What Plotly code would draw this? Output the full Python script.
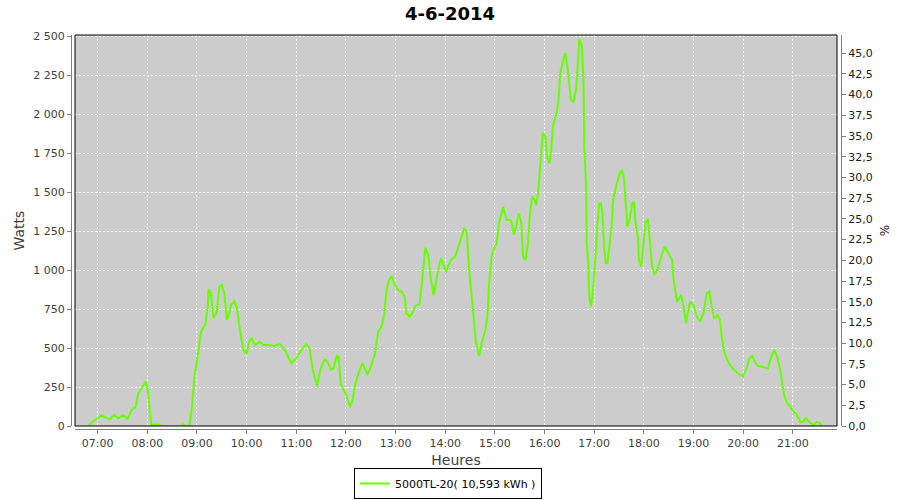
import plotly.graph_objects as go

DAY = "2014-06-04"
TITLE = "4-6-2014"
SERIES_NAME = "5000TL-20( 10,593 kWh )"

times = [
    "06:49", "06:55", "07:05", "07:11", "07:15", "07:20", "07:25", "07:31", "07:36", "07:41",
    "07:46", "07:49", "07:53", "07:58", "08:00", "08:03", "08:05", "08:09", "08:15", "08:18",
    "08:40", "08:43", "08:46", "08:51", "08:54", "08:57", "09:00", "09:02", "09:04", "09:06",
    "09:10", "09:13", "09:14", "09:17", "09:20", "09:24", "09:27", "09:30", "09:33", "09:36",
    "09:38", "09:41", "09:45", "09:48", "09:51", "09:54", "09:57", "10:00", "10:03", "10:06",
    "10:10", "10:16", "10:20", "10:26", "10:33", "10:40", "10:46", "10:54", "11:00", "11:06",
    "11:12", "11:16", "11:20", "11:25", "11:29", "11:34", "11:37", "11:42", "11:45", "11:49",
    "11:51", "11:54", "11:59", "12:02", "12:05", "12:08", "12:11", "12:15", "12:20", "12:26",
    "12:31", "12:35", "12:39", "12:43", "12:46", "12:49", "12:52", "12:55", "12:59", "13:03",
    "13:07", "13:11", "13:13", "13:17", "13:20", "13:24", "13:29", "13:32", "13:34", "13:36",
    "13:40", "13:42", "13:46", "13:48", "13:51", "13:55", "13:57", "14:01", "14:04", "14:08",
    "14:12", "14:16", "14:20", "14:23", "14:26", "14:29", "14:32", "14:35", "14:37", "14:41",
    "14:44", "14:48", "14:51", "14:53", "14:56", "14:59", "15:02", "15:05", "15:08", "15:10",
    "15:14", "15:18", "15:20", "15:23", "15:26", "15:29", "15:32", "15:34", "15:37", "15:40",
    "15:42", "15:45", "15:48", "15:50", "15:52", "15:54", "15:56", "15:58", "16:01", "16:03",
    "16:06", "16:08", "16:10", "16:13", "16:15", "16:17", "16:19", "16:22", "16:25", "16:27",
    "16:30", "16:32", "16:35", "16:38", "16:40", "16:41", "16:42", "16:45", "16:47", "16:48",
    "16:50", "16:51", "16:53", "16:54", "16:56", "16:58", "17:00", "17:02", "17:04", "17:06",
    "17:08", "17:10", "17:12", "17:14", "17:16", "17:18", "17:21", "17:23", "17:26", "17:29",
    "17:32", "17:34", "17:36", "17:38", "17:40", "17:43", "17:46", "17:48", "17:50", "17:53",
    "17:54", "17:57", "17:59", "18:02", "18:05", "18:07", "18:10", "18:13", "18:17", "18:21",
    "18:25", "18:30", "18:34", "18:36", "18:40", "18:42", "18:45", "18:48", "18:51", "18:53",
    "18:56", "19:00", "19:04", "19:08", "19:12", "19:16", "19:19", "19:22", "19:25", "19:29",
    "19:32", "19:34", "19:37", "19:40", "19:44", "19:48", "19:52", "19:56", "20:00", "20:02",
    "20:05", "20:07", "20:11", "20:14", "20:18", "20:22", "20:26", "20:30", "20:32", "20:36",
    "20:38", "20:41", "20:45", "20:47", "20:50", "20:53", "20:57", "21:01", "21:05", "21:09",
    "21:12", "21:16", "21:21", "21:25", "21:29", "21:32", "21:35",
]

watts = [
    0, 32, 71, 49, 45, 71, 49, 71, 45, 103,
    124, 210, 242, 285, 252, 92, 0, 10, 8, 0,
    0, 10, 0, 0, 124, 317, 413, 488, 584, 617,
    649, 766, 878, 852, 692, 734, 895, 906, 852, 681,
    702, 777, 803, 766, 649, 541, 477, 467, 541, 567,
    520, 541, 520, 520, 514, 525, 488, 403, 435, 488,
    525, 499, 360, 257, 360, 424, 417, 360, 370, 452,
    445, 263, 214, 178, 120, 167, 263, 338, 403, 328,
    392, 467, 606, 638, 713, 873, 938, 963, 906, 873,
    863, 830, 724, 702, 724, 771, 784, 917, 1034, 1145,
    1087, 960, 841, 895, 991, 1077, 1055, 987, 1034, 1071,
    1087, 1152, 1216, 1270, 1245, 990, 830, 660, 541, 450,
    531, 606, 702, 917, 1087, 1141, 1173, 1302, 1376, 1408,
    1323, 1323, 1312, 1227, 1291, 1366, 1302, 1087, 1066, 1173,
    1344, 1473, 1452, 1419, 1484, 1623, 1805, 1884, 1858, 1730,
    1687, 1773, 1922, 1983, 2019, 2105, 2265, 2334, 2394, 2330,
    2169, 2094, 2083, 2158, 2308, 2394, 2484, 2436, 2222, 1794,
    1569, 1173, 1023, 830, 766, 830, 1023, 1130, 1302, 1430,
    1430, 1366, 1152, 1045, 1045, 1152, 1280, 1462, 1537, 1591,
    1633, 1644, 1591, 1408, 1280, 1334, 1430, 1441, 1300, 1205,
    1066, 1023, 1130, 1312, 1323, 1195, 1023, 970, 1013, 1087,
    1152, 1109, 1066, 938, 798, 814, 841, 766, 660, 724,
    798, 777, 702, 670, 724, 852, 863, 766, 692, 713,
    681, 574, 477, 435, 392, 366, 349, 328, 321, 349,
    381, 430, 450, 413, 385, 381, 377, 370, 413, 473,
    484, 445, 360, 274, 188, 146, 124, 92, 71, 28,
    28, 49, 21, 6, 28, 21, 0,
]

x_vals = [f"{DAY} {t}" for t in times]

FONT = "DejaVu Sans"
TICK_GRAY = "#404040"
AXIS_GRAY = "#808080"

fig = go.Figure()
fig.add_trace(go.Scatter(
    x=x_vals, y=watts, mode="lines", name=SERIES_NAME,
    line=dict(color="#66FF00", width=2),
    yaxis="y", showlegend=True,
))
# empty trace to bind the secondary (%) axis
fig.add_trace(go.Scatter(x=[], y=[], yaxis="y2", showlegend=False, hoverinfo="skip"))

W, H = 900, 500
ml, mr, mt, mb = 71, 59, 35, 71
pw = W - ml - mr
ph = H - mt - mb

fig.update_layout(
    width=W, height=H,
    margin=dict(l=ml, r=mr, t=mt, b=mb, pad=0, autoexpand=False),
    paper_bgcolor="white",
    plot_bgcolor="#CCCCCC",
    separators=", ",
    font=dict(family=FONT, size=11, color=TICK_GRAY),
    title=dict(text=TITLE, x=0.5, xanchor="center", xref="container",
               y=1 - 14 / H, yanchor="middle", yref="container", automargin=False,
               font=dict(family=FONT, size=18, color="black", weight="bold")),
    xaxis=dict(
        type="date", automargin=False,
        domain=[4 / pw, (pw - 4) / pw],
        anchor="free", position=0,
        range=[f"{DAY} 06:32:36", f"{DAY} 21:53:24"],
        tick0=f"{DAY} 07:00", dtick=3600000, tickformat="%H:%M",
        showgrid=True, gridcolor="white", griddash="2px,2px", gridwidth=1,
        showline=True, linecolor=AXIS_GRAY, linewidth=1,
        ticks="outside", ticklen=4, tickcolor=AXIS_GRAY,
        tickfont=dict(family=FONT, size=11, color=TICK_GRAY),
        zeroline=False,
        title=dict(text="Heures", standoff=6, font=dict(family=FONT, size=14, color=TICK_GRAY)),
    ),
    yaxis=dict(
        automargin=False,
        domain=[3 / ph, 1],
        anchor="free", position=0,
        range=[0, 2510], dtick=250, tickformat=",d",
        showgrid=True, gridcolor="white", griddash="2px,2px", gridwidth=1,
        showline=True, linecolor=AXIS_GRAY, linewidth=1,
        ticks="outside", ticklen=4, tickcolor=AXIS_GRAY,
        tickfont=dict(family=FONT, size=11, color=TICK_GRAY),
        zeroline=False,
        title=dict(text="Watts", standoff=4, font=dict(family=FONT, size=14, color=TICK_GRAY)),
    ),
    yaxis2=dict(
        automargin=False,
        overlaying="y", side="right",
        anchor="free", position=1,
        range=[0, 47.2], dtick=2.5, tickformat=".1f",
        showgrid=False, zeroline=False,
        showline=True, linecolor=AXIS_GRAY, linewidth=1,
        ticks="outside", ticklen=4, tickcolor=AXIS_GRAY,
        tickfont=dict(family=FONT, size=11, color="#202020"),
        title=dict(text="%", standoff=8, font=dict(family=FONT, size=12, color="#202020")),
    ),
    legend=dict(
        orientation="h",
        xref="container", x=448 / W, xanchor="center",
        yref="container", y=1 / H, yanchor="bottom",
        bordercolor="black", borderwidth=1, bgcolor="white",
        font=dict(family=FONT, size=11, color="black"),
        itemwidth=30,
    ),
    shapes=[dict(
        type="rect", xref="x domain", yref="y domain",
        x0=0, x1=1, y0=0, y1=1,
        line=dict(color="black", width=1), fillcolor="rgba(0,0,0,0)",
        layer="above",
    )],
)

# the page is shown at 900x500: drop the browser's default body margin so the
# figure sits at the top-left corner of the window
fig.write_html("out.html", config={"displayModeBar": False},
               post_script="document.body.style.margin='0px';")
